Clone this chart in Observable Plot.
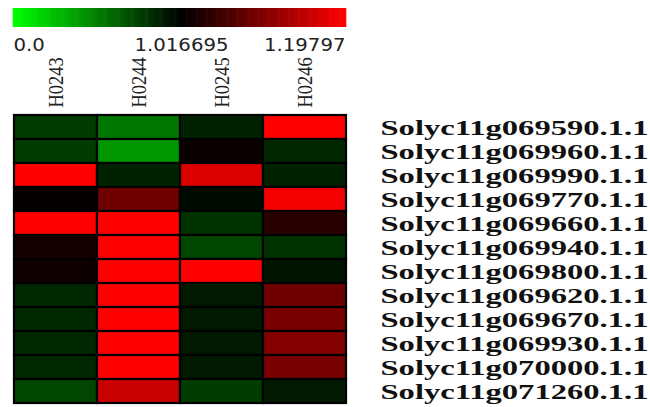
<!DOCTYPE html>
<html>
<head>
<meta charset="utf-8">
<script src="https://cdn.jsdelivr.net/npm/d3@7"></script>
<script src="https://cdn.jsdelivr.net/npm/@observablehq/plot@0.6"></script>
<style>
  html, body { margin: 0; padding: 0; background: #fff; }
  #chart { width: 650px; height: 407px; overflow: hidden; }
  #chart svg { display: block; overflow: visible; }
</style>
</head>
<body>
<div id="chart"></div>
<script>
// ---- data ----
const samples = ["H0243", "H0244", "H0245", "H0246"];
const genes = [
  "Solyc11g069590.1.1", "Solyc11g069960.1.1", "Solyc11g069990.1.1", "Solyc11g069770.1.1",
  "Solyc11g069660.1.1", "Solyc11g069940.1.1", "Solyc11g069800.1.1", "Solyc11g069620.1.1",
  "Solyc11g069670.1.1", "Solyc11g069930.1.1", "Solyc11g070000.1.1", "Solyc11g071260.1.1"
];
const valuesH0243 = [0.78, 0.78, 1.198, 1.020, 1.198, 1.031, 1.027, 0.857, 0.857, 0.857, 0.857, 0.738];
const valuesH0244 = [0.54, 0.42, 0.88, 1.095, 1.198, 1.198, 1.198, 1.198, 1.198, 1.198, 1.198, 1.159];
const valuesH0245 = [0.88, 1.024, 1.173, 0.977, 0.817, 0.738, 1.198, 0.917, 0.917, 0.917, 0.917, 0.78];
const valuesH0246 = [1.198, 0.86, 0.88, 1.190, 1.045, 0.817, 0.937, 1.095, 1.102, 1.109, 1.102, 0.917];
const legendTicks = [0, 1.016695, 1.19797];
const legendLabels = ["0.0", "1.016695", "1.19797"];

const seriesBySample = [valuesH0243, valuesH0244, valuesH0245, valuesH0246];
const table = [];
samples.forEach((s, i) => genes.forEach((g, j) => table.push({sample: s, gene: g, value: seriesBySample[i][j]})));

const colorSpec = {
  type: "linear",
  domain: legendTicks,
  range: ["#00ff00", "#000000", "#ff0000"],
  interpolate: "rgb",
  clamp: true
};

// widen text horizontally about its own anchor point, keeping Plot's positioning intact
function stretchText(svg, labels, sx, sy = 1) {
  const set = new Set(labels);
  svg.querySelectorAll("text").forEach(t => {
    if (!set.has(t.textContent)) return;
    let x = parseFloat(t.getAttribute("x"));
    if (!isFinite(x)) x = 0;
    const tr = t.getAttribute("transform") || "";
    t.setAttribute("transform", `${tr} translate(${x},0) scale(${sx},${sy}) translate(${-x},0)`.trim());
  });
}

// ---- legend ----
const lo = legendTicks[0], mid = legendTicks[1], hi = legendTicks[2];
const stops = [];
for (let k = 0; k <= 180; k++) stops.push(lo + (mid - lo) * k / 180);
for (let k = 1; k <= 180; k++) stops.push(mid + (hi - mid) * k / 180);

const legend = Plot.plot({
  width: 650, height: 56,
  marginTop: 8, marginBottom: 29, marginLeft: 13, marginRight: 305,
  style: {background: "transparent", fontFamily: "DejaVu Sans", fontSize: "17px", color: "#222"},
  x: {type: "linear", domain: legendTicks, range: [13, 181, 345], axis: null},
  y: {axis: null},
  color: colorSpec,
  marks: [
    Plot.ruleX(stops, {x: d => d, stroke: d => d, strokeWidth: 1.6}),
    Plot.text([0], {x: i => legendTicks[i], text: i => legendLabels[i], frameAnchor: "bottom", lineAnchor: "top", dy: 11, textAnchor: "start", fill: "#222"}),
    Plot.text([1], {x: i => legendTicks[i], text: i => legendLabels[i], frameAnchor: "bottom", lineAnchor: "top", dy: 11, textAnchor: "middle", fill: "#222"}),
    Plot.text([2], {x: i => legendTicks[i], text: i => legendLabels[i], frameAnchor: "bottom", lineAnchor: "top", dy: 11, textAnchor: "end", fill: "#222"})
  ]
});

// ---- heatmap ----
const chart = Plot.plot({
  width: 650, height: 351,
  marginTop: 59, marginBottom: 4, marginLeft: 13, marginRight: 304,
  style: {background: "transparent", fontFamily: "Liberation Serif", color: "#222"},
  x: {type: "band", domain: samples, padding: 0, axis: null},
  y: {type: "band", domain: genes, padding: 0, axis: null},
  color: colorSpec,
  marks: [
    Plot.cell(table, {x: "sample", y: "gene", fill: "value", stroke: "#000", strokeWidth: 2.2}),
    Plot.text(samples, {x: d => d, text: d => d, frameAnchor: "top", rotate: -90, textAnchor: "start", lineAnchor: "middle", dy: -8, fontSize: 18.5, fill: "#222"}),
    Plot.text(genes, {y: d => d, text: d => d, frameAnchor: "right", textAnchor: "start", lineAnchor: "middle", dx: 34, dy: 1, fontSize: 20, fontWeight: "bold", fill: "#111"})
  ]
});

const root = document.getElementById("chart");
root.appendChild(legend);
root.appendChild(chart);
stretchText(legend, legendLabels, 1.16);
stretchText(chart, genes, 1.63);
stretchText(chart, samples, 1, 1.12);
</script>
</body>
</html>
